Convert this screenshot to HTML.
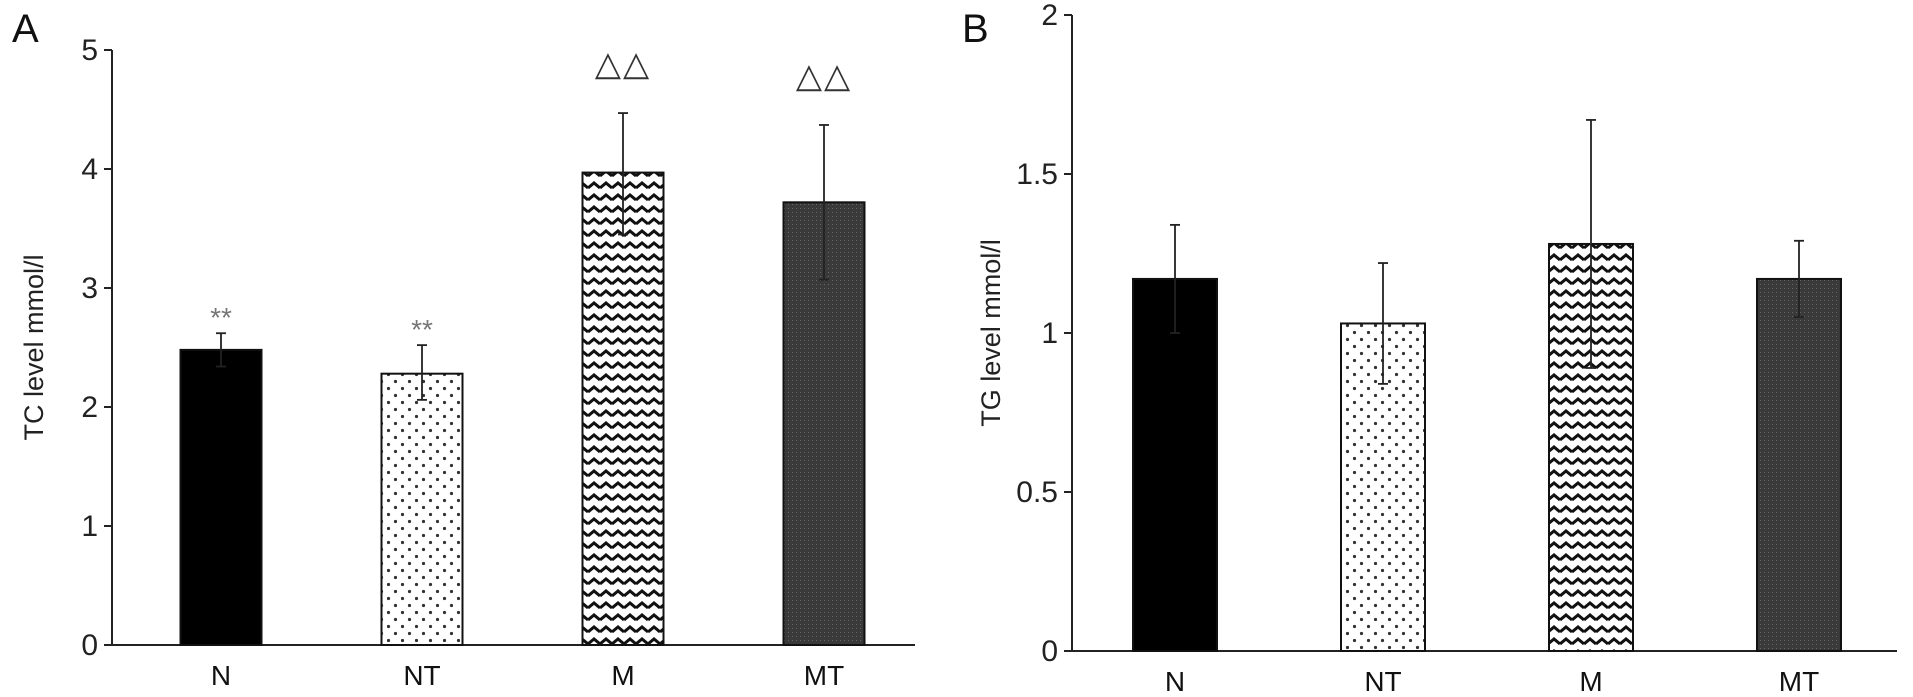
<!DOCTYPE html>
<html><head><meta charset="utf-8"><style>
body{margin:0;background:#fff}
svg{display:block;font-family:"Liberation Sans",Arial,sans-serif}
</style></head><body>
<svg id="chart" width="1913" height="697" viewBox="0 0 1913 697">
<defs>
<pattern id="dots" width="14" height="14" patternUnits="userSpaceOnUse"><rect width="14" height="14" fill="#fff"/><circle cx="3.5" cy="3.5" r="1.6" fill="#333"/><circle cx="10.5" cy="10.5" r="1.6" fill="#333"/></pattern>
<pattern id="zig" width="12" height="12" patternUnits="userSpaceOnUse"><rect width="12" height="12" fill="#fff"/><path d="M0,8 L6,3 L12,8" stroke="#111" stroke-width="3" fill="none"/></pattern>
<pattern id="dark" width="4" height="4" patternUnits="userSpaceOnUse"><rect width="4" height="4" fill="#3a3a3a"/><rect width="1" height="1" fill="#666"/></pattern>
</defs>
<g id="root"></g>
</svg>
<script>
const categories=["N","NT","M","MT"];
const tcValues=[2.48,2.28,3.97,3.72];
const tcErrUp=[2.62,2.52,4.47,4.37];
const tcErrLow=[2.34,2.06,3.45,3.07];
const tcMarks=["**","**","△△","△△"];
const tcTicks=[0,1,2,3,4,5];
const tgValues=[1.17,1.03,1.28,1.17];
const tgErrUp=[1.34,1.22,1.67,1.29];
const tgErrLow=[1.0,0.84,0.89,1.05];
const tgTicks=["0","0.5","1","1.5","2"];
const fills=["#000","url(#dots)","url(#zig)","url(#dark)"];
const NS="http://www.w3.org/2000/svg";
const root=document.getElementById('root');
function mk(tag,attrs,txt){const e=document.createElementNS(NS,tag);for(const k in attrs)e.setAttribute(k,attrs[k]);if(txt!==undefined)e.textContent=txt;root.appendChild(e);return e;}
function panel(p){
  const y=v=>p.y0-(v/p.max)*(p.y0-p.yTop);
  const x=i=>p.x0+p.first+i*p.step;
  let e=mk('line',{x1:p.x0,y1:p.yTop,x2:p.x0,y2:p.y0,stroke:'#222','stroke-width':2});
  
  
  e=mk('line',{x1:p.x0,y1:p.y0,x2:p.xEnd,y2:p.y0,stroke:'#222','stroke-width':2});
  
  
  p.ticks.forEach(t=>{const v=parseFloat(t);
    e=mk('line',{x1:p.x0-8,y1:y(v),x2:p.x0,y2:y(v),stroke:'#222','stroke-width':2});
    
    
    e=mk('text',{x:p.x0-14,y:y(v)+10,'text-anchor':'end','font-size':30,fill:'#222'},String(t));
    
    
  });
  categories.forEach((c,i)=>{
    const cx=x(i),w=p.bw;
    e=mk('rect',{x:cx-w/2,y:y(p.vals[i]),width:w,height:p.y0-y(p.vals[i]),fill:fills[i],stroke:'#111','stroke-width':2});
    
    
    e=mk('line',{x1:cx,y1:y(p.up[i]),x2:cx,y2:y(p.low[i]),stroke:'#222','stroke-width':1.8});
    
    
    [p.up[i],p.low[i]].forEach(v=>{e=mk('line',{x1:cx-5,y1:y(v),x2:cx+5,y2:y(v),stroke:'#222','stroke-width':1.8});
      
      });
    e=mk('text',{x:cx,y:p.y0+40,'text-anchor':'middle','font-size':28,fill:'#111'},c);
    
    
    if(p.marks&&p.marks[i]){
      const tri=p.marks[i].includes('△');
      e=mk('text',{x:cx,y:tri?y(p.up[i])-38:y(p.up[i])-6,'text-anchor':'middle','font-size':tri?34:28,fill:tri?'#333':'#777','letter-spacing':tri?2:0},p.marks[i]);
      
      
    }
  });
  e=mk('text',{x:p.labX,y:(p.y0+p.yTop)/2,'text-anchor':'middle','font-size':27,fill:'#222',transform:'rotate(-90 '+p.labX+' '+(p.y0+p.yTop)/2+')'},p.title);
  
  
  e=mk('text',{x:p.letX,y:42,'font-size':40,fill:'#111'},p.letter);
  
  
}
panel({id:'tc',x0:112,xEnd:915,yTop:50,y0:645,max:5,first:109,step:201,bw:81,vals:tcValues,up:tcErrUp,low:tcErrLow,marks:tcMarks,ticks:tcTicks,title:'TC level mmol/l',labX:43,letX:12,letter:'A'});
panel({id:'tg',x0:1072,xEnd:1897,yTop:15,y0:651,max:2,first:103,step:208,bw:84,vals:tgValues,up:tgErrUp,low:tgErrLow,marks:null,ticks:tgTicks,title:'TG level mmol/l',labX:1000,letX:962,letter:'B'});
</script>
</body></html>
